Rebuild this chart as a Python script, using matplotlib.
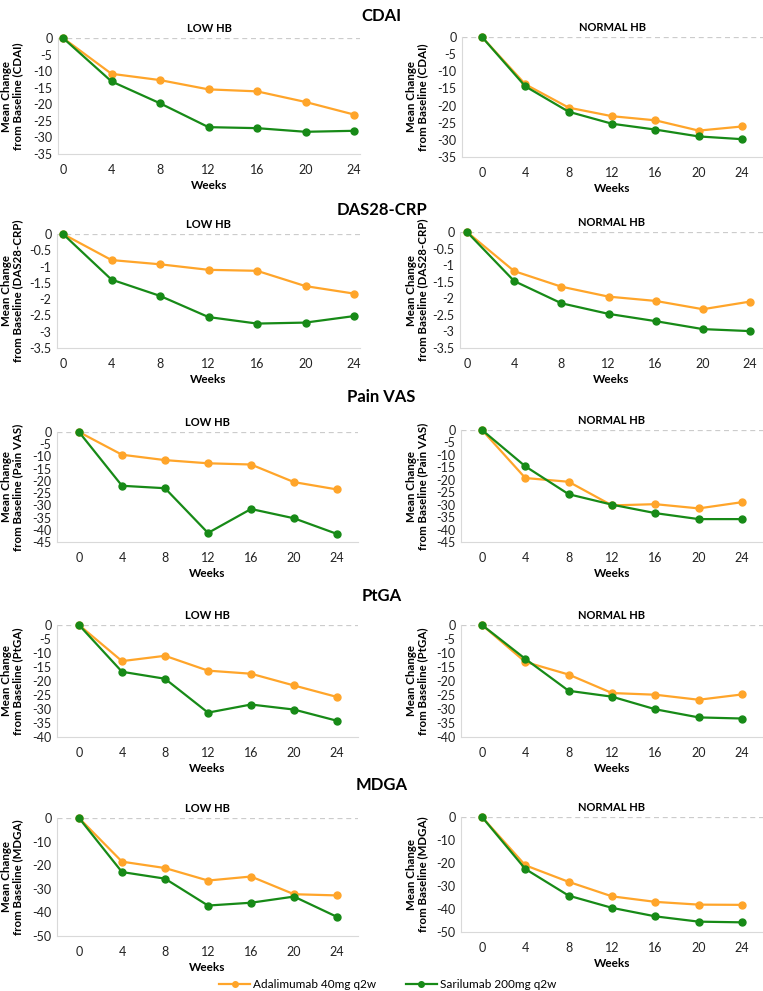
import matplotlib
matplotlib.use('Agg')
import matplotlib.pyplot as plt
from matplotlib.lines import Line2D

plt.rcParams['font.family'] = ['Lato', 'DejaVu Sans']
plt.rcParams['axes.unicode_minus'] = False

weeks = [0, 4, 8, 12, 16, 20, 24]
series_names = ['Adalimumab 40mg q2w', 'Sarilumab 200mg q2w']
orange = '#FFA52A'
green = '#178A17'

# low Hb / normal Hb, adalimumab / sarilumab, per outcome
cdai_low_ada = [0, -10.8, -12.7, -15.5, -16.1, -19.3, -23.1]
cdai_low_sar = [0, -13.1, -19.7, -26.9, -27.2, -28.3, -28.0]
cdai_norm_ada = [0, -13.8, -20.6, -23.1, -24.3, -27.3, -26.1]
cdai_norm_sar = [0, -14.4, -21.8, -25.3, -27.0, -29.0, -29.8]

das_low_ada = [0, -0.80, -0.93, -1.10, -1.13, -1.60, -1.83]
das_low_sar = [0, -1.40, -1.90, -2.55, -2.75, -2.72, -2.52]
das_norm_ada = [0, -1.18, -1.65, -1.95, -2.08, -2.33, -2.10]
das_norm_sar = [0, -1.48, -2.15, -2.47, -2.69, -2.93, -2.99]

pain_low_ada = [0, -9.3, -11.5, -12.8, -13.3, -20.5, -23.5]
pain_low_sar = [0, -22.0, -23.0, -41.3, -31.5, -35.3, -41.7]
pain_norm_ada = [0, -19.3, -20.8, -30.3, -29.8, -31.5, -29.0]
pain_norm_sar = [0, -14.6, -25.8, -30.0, -33.4, -35.8, -35.8]

ptga_low_ada = [0, -12.9, -11.0, -16.3, -17.4, -21.6, -25.7]
ptga_low_sar = [0, -16.7, -19.2, -31.3, -28.4, -30.2, -34.2]
ptga_norm_ada = [0, -13.2, -17.7, -24.3, -24.9, -26.7, -24.8]
ptga_norm_sar = [0, -12.1, -23.5, -25.6, -30.1, -33.0, -33.4]

mdga_low_ada = [0, -18.5, -21.2, -26.5, -24.8, -32.3, -32.8]
mdga_low_sar = [0, -22.9, -25.7, -37.1, -35.9, -33.3, -41.9]
mdga_norm_ada = [0, -21.0, -28.2, -34.5, -36.9, -38.1, -38.2]
mdga_norm_sar = [0, -22.6, -34.2, -39.5, -43.2, -45.5, -45.8]

outcomes = ['CDAI', 'DAS28-CRP', 'Pain VAS', 'PtGA', 'MDGA']
y_min = [-35, -3.5, -45, -40, -50]
y_step = [5, 0.5, 5, 5, 10]
data = [
    (cdai_low_ada, cdai_low_sar, cdai_norm_ada, cdai_norm_sar),
    (das_low_ada, das_low_sar, das_norm_ada, das_norm_sar),
    (pain_low_ada, pain_low_sar, pain_norm_ada, pain_norm_sar),
    (ptga_low_ada, ptga_low_sar, ptga_norm_ada, ptga_norm_sar),
    (mdga_low_ada, mdga_low_sar, mdga_norm_ada, mdga_norm_sar),
]

W, H = 763, 991
fig = plt.figure(figsize=(W / 100, H / 100), dpi=100)

# layout in pixels: (axis left, axis right, top(zero), bottom, x of wk0, x of wk24)
boxes = [
    [(58, 360, 38, 154, 63, 354), (462, 763, 37, 157, 482, 742)],
    [(57, 360, 234, 348, 63, 354), (460, 763, 232, 348, 467, 750)],
    [(57, 358, 432, 542, 79, 337), (461, 763, 430, 542, 482, 742)],
    [(57, 358, 625, 737, 79, 337), (461, 763, 625, 737, 482, 742)],
    [(57, 358, 818, 936, 79, 337), (461, 763, 817, 932, 482, 742)],
]
title_y = [16, 210, 397, 596, 785]
ylab_x = [12, 417]

for r, name in enumerate(outcomes):
    fig.text(0.5, 1 - title_y[r] / H, name, ha='center', va='center',
             fontsize=12, fontweight='bold')
    for c in range(2):
        x0, x1, yt, yb, p0, p24 = boxes[r][c]
        ax = fig.add_axes([x0 / W, 1 - yb / H, (x1 - x0) / W, (yb - yt) / H])
        s = (p24 - p0) / 24
        ax.set_xlim((x0 - p0) / s, (x1 - p0) / s)
        ax.set_ylim(y_min[r], 0)
        ada = data[r][2 * c]
        sar = data[r][2 * c + 1]
        ax.axhline(0, color='#cccccc', lw=0.9, ls=(0, (4, 3)), zorder=1)
        ax.plot(weeks, ada, color=orange, lw=1.6, marker='o', ms=5, clip_on=False, zorder=3)
        ax.plot(weeks, sar, color=green, lw=1.6, marker='o', ms=5, clip_on=False, zorder=4)
        n = int(round(-y_min[r] / y_step[r]))
        ticks = [-i * y_step[r] for i in range(n + 1)]
        ax.set_yticks(ticks)
        ax.set_yticklabels(['{:g}'.format(round(t, 2)) if t != 0 else '0' for t in ticks])
        ax.set_xticks(weeks)
        ax.set_xticklabels([str(w) for w in weeks])
        ax.tick_params(length=0, labelsize=9, pad=4, colors='#222222')
        ax.tick_params(axis='x', pad=7)
        for sp in ['top', 'right']:
            ax.spines[sp].set_visible(False)
        ax.spines['left'].set_color('#d9d9d9')
        ax.spines['bottom'].set_color('#d9d9d9')
        ax.set_xlabel('Weeks', fontsize=8.5, fontweight='bold', labelpad=3)
        ax.set_title('LOW HB' if c == 0 else 'NORMAL HB', fontsize=8, fontweight='bold', pad=4)
        fig.text(ylab_x[c] / W, 1 - (yt + yb) / 2 / H,
                 'Mean Change\nfrom Baseline (' + name + ')', rotation=90,
                 ha='center', va='center', fontsize=8.3, fontweight='bold', linespacing=1.05)

handles = [Line2D([], [], color=orange, lw=1.6, marker='o', ms=4),
           Line2D([], [], color=green, lw=1.6, marker='o', ms=4)]
fig.legend(handles, series_names, loc='center', bbox_to_anchor=(388 / W, 1 - 985 / H),
           ncol=2, frameon=False, fontsize=8.5, handlelength=2.6, columnspacing=2.5,
           handletextpad=0.3)

fig.savefig('out.png', dpi=100)
